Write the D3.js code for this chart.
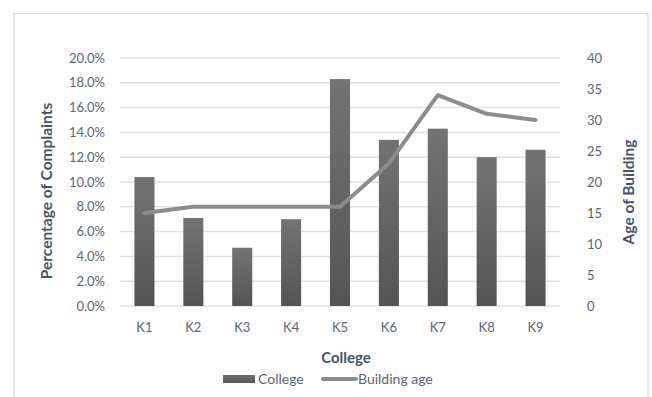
<!DOCTYPE html>
<html>
<head>
<meta charset="utf-8">
<script src="https://cdn.jsdelivr.net/npm/d3@7"></script>
<style>
  html, body { margin: 0; padding: 0; background: #fff; }
  svg { display: block; }
</style>
</head>
<body>
<svg id="chart" width="652" height="397"></svg>
<script>
const categories = ["K1", "K2", "K3", "K4", "K5", "K6", "K7", "K8", "K9"];
const complaintPct = [10.4, 7.1, 4.7, 7.0, 18.3, 13.4, 14.3, 12.0, 12.6];
const buildingAge = [15, 16, 16, 16, 16, 23, 34, 31, 30];
const leftTicks = [0, 2, 4, 6, 8, 10, 12, 14, 16, 18, 20];
const rightTicks = [0, 5, 10, 15, 20, 25, 30, 35, 40];
const seriesNames = ["College", "Building age"];

const svg = d3.select("#chart");
const FONT = "Lato, 'Open Sans', sans-serif";
const tickColor = "#5b6372";
const titleColor = "#44546a";

// Chart frame
svg.append("path")
  .attr("d", "M14,397 L14,13.5 L648,13.5 L648,397")
  .attr("fill", "none").attr("stroke", "#d9d9d9").attr("stroke-width", 1.2);

const plot = { left: 120, right: 560, top: 58, bottom: 306 };

const x = d3.scaleBand().domain(categories).range([plot.left, plot.right]).paddingInner(0.59).paddingOuter(0.295);
const yL = d3.scaleLinear().domain([0, 20]).range([plot.bottom, plot.top]);
const yR = d3.scaleLinear().domain([0, 40]).range([plot.bottom, plot.top]);

// gradient for bars
const defs = svg.append("defs");
const grad = defs.append("linearGradient").attr("id", "barGrad")
  .attr("x1", 0).attr("y1", 0).attr("x2", 0).attr("y2", 1);
grad.append("stop").attr("offset", "0%").attr("stop-color", "#737373");
grad.append("stop").attr("offset", "100%").attr("stop-color", "#545454");
const grad2 = defs.append("linearGradient").attr("id", "legGrad")
  .attr("x1", 0).attr("y1", 0).attr("x2", 0).attr("y2", 1);
grad2.append("stop").attr("offset", "0%").attr("stop-color", "#6e6e6e");
grad2.append("stop").attr("offset", "100%").attr("stop-color", "#555");

// gridlines
svg.append("g").selectAll("line").data(leftTicks).join("line")
  .attr("x1", plot.left).attr("x2", plot.right)
  .attr("y1", d => yL(d)).attr("y2", d => yL(d))
  .attr("stroke", "#dde1e6").attr("stroke-width", 1.5);

// left axis
const leftAxis = svg.append("g").attr("transform", `translate(${plot.left},0)`)
  .call(d3.axisLeft(yL).tickValues(leftTicks).tickSize(0).tickPadding(15)
    .tickFormat(d => d.toFixed(1) + "%"));
leftAxis.select(".domain").remove();
leftAxis.selectAll("text").attr("font-family", FONT).attr("font-size", 13)
  .attr("fill", tickColor);

// right axis
const rightAxis = svg.append("g").attr("transform", `translate(${plot.right},0)`)
  .call(d3.axisRight(yR).tickValues(rightTicks).tickSize(0).tickPadding(27));
rightAxis.select(".domain").remove();
rightAxis.selectAll("text").attr("font-family", FONT).attr("font-size", 13)
  .attr("fill", tickColor);

// bottom axis
const bottomAxis = svg.append("g").attr("transform", `translate(0,${plot.bottom})`)
  .call(d3.axisBottom(x).tickSize(0).tickPadding(17));
bottomAxis.select(".domain").remove();
bottomAxis.selectAll("text").attr("font-family", FONT).attr("font-size", 13)
  .attr("fill", tickColor);

// bars
svg.append("g").selectAll("rect").data(categories).join("rect")
  .attr("x", d => x(d))
  .attr("width", x.bandwidth())
  .attr("y", (d, i) => yL(complaintPct[i]))
  .attr("height", (d, i) => yL(0) - yL(complaintPct[i]))
  .attr("fill", "url(#barGrad)");

// line
const line = d3.line()
  .x((d, i) => x(categories[i]) + x.bandwidth() / 2)
  .y(d => yR(d));
svg.append("path").datum(buildingAge)
  .attr("d", line)
  .attr("fill", "none").attr("stroke", "#8c8c8c").attr("stroke-width", 4)
  .attr("stroke-linejoin", "round").attr("stroke-linecap", "round");

// axis titles
svg.append("text").attr("transform", `translate(52,191) rotate(-90)`)
  .attr("text-anchor", "middle").attr("font-family", FONT).attr("font-weight", "bold")
  .attr("font-size", 15.5).attr("fill", titleColor).text("Percentage of Complaints");
svg.append("text").attr("transform", `translate(634,192) rotate(-90)`)
  .attr("text-anchor", "middle").attr("font-family", FONT).attr("font-weight", "bold")
  .attr("font-size", 15.5).attr("fill", titleColor).text("Age of Building");
svg.append("text").attr("x", 346).attr("y", 363)
  .attr("text-anchor", "middle").attr("font-family", FONT).attr("font-weight", "bold")
  .attr("font-size", 15).attr("fill", titleColor).text("College");

// legend
const leg = svg.append("g");
leg.append("rect").attr("x", 223).attr("y", 375).attr("width", 32).attr("height", 8)
  .attr("fill", "url(#legGrad)");
leg.append("text").attr("x", 258).attr("y", 384).attr("font-family", FONT)
  .attr("font-size", 14).attr("fill", tickColor).text(seriesNames[0]);
leg.append("line").attr("x1", 323).attr("x2", 356).attr("y1", 379).attr("y2", 379)
  .attr("stroke", "#8c8c8c").attr("stroke-width", 4).attr("stroke-linecap", "round");
leg.append("text").attr("x", 358).attr("y", 384).attr("font-family", FONT)
  .attr("font-size", 14).attr("fill", tickColor).text(seriesNames[1]);
</script>
</body>
</html>
